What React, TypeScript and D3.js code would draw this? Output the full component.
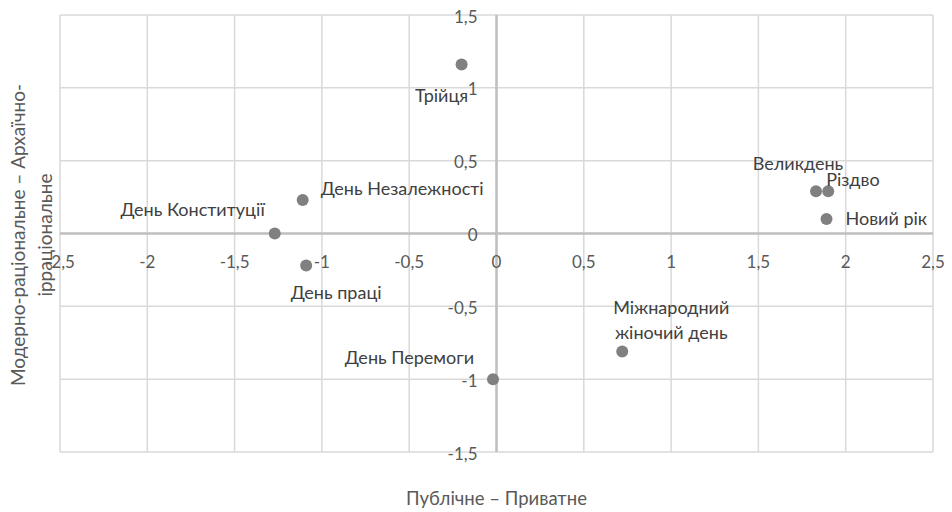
import * as d3 from 'd3';

const holidays = ['Трійця', 'День Незалежності', 'День Конституції', 'День праці', 'День Перемоги', 'Міжнародний жіночий день', 'Великдень', 'Різдво', 'Новий рік'];
const publicPrivate = [-0.2, -1.11, -1.27, -1.09, -0.02, 0.72, 1.83, 1.9, 1.89];
const modernArchaic = [1.16, 0.23, 0.0, -0.22, -1.0, -0.81, 0.29, 0.29, 0.1];
// label lines, split as in the source
const labelLines = [['Трійця'], ['День Незалежності'], ['День Конституції'], ['День праці'], ['День Перемоги'], ['Міжнародний', 'жіночий день'], ['Великдень'], ['Різдво'], ['Новий рік']];

const xTicks = [-2.5, -2, -1.5, -1, -0.5, 0, 0.5, 1, 1.5, 2, 2.5];
const yTicks = [-1.5, -1, -0.5, 0, 0.5, 1, 1.5];

const xTitle = 'Публічне – Приватне';
const yTitleLines = ['Модерно-раціональне – Архаїчно-', 'ірраціональне'];

// label placement relative to each point (px)
const labelPos: { dx: number; dy: number; anchor: string }[] = [
  { dx: -20, dy: 30, anchor: 'middle' },
  { dx: 18, dy: -12, anchor: 'start' },
  { dx: -10, dy: -25, anchor: 'end' },
  { dx: 30, dy: 26, anchor: 'middle' },
  { dx: -19, dy: -22, anchor: 'end' },
  { dx: 49, dy: -44, anchor: 'middle' },
  { dx: -18, dy: -28, anchor: 'middle' },
  { dx: -2, dy: -12, anchor: 'start' },
  { dx: 19, dy: -1, anchor: 'start' },
];

const fmt = (v: number) => String(v).replace('.', ',');

export default function App() {
  const width = 952;
  const height = 512;
  const margin = { top: 15, right: 19, bottom: 60, left: 60 };

  const x = d3.scaleLinear().domain([-2.5, 2.5]).range([margin.left, width - margin.right]);
  const y = d3.scaleLinear().domain([-1.5, 1.5]).range([height - margin.bottom, margin.top]);

  const font = 'Lato, "Open Sans", sans-serif';
  const textColor = '#595959';

  return (
    <svg
      width={width}
      height={height}
      style={{ position: 'absolute', left: 0, top: 0, background: '#fff' }}
      fontFamily={font}
    >
      {/* сітка */}
      {xTicks.map((t) => (
        <line key={'gx' + t} x1={x(t)} x2={x(t)} y1={y(1.5)} y2={y(-1.5)} stroke="#d9d9d9" strokeWidth={1.5} />
      ))}
      {yTicks.map((t) => (
        <line key={'gy' + t} x1={x(-2.5)} x2={x(2.5)} y1={y(t)} y2={y(t)} stroke="#d9d9d9" strokeWidth={1.5} />
      ))}

      {/* осі */}
      <line x1={x(-2.5)} x2={x(2.5)} y1={y(0)} y2={y(0)} stroke="#bfbfbf" strokeWidth={2.5} />
      <line x1={x(0)} x2={x(0)} y1={y(1.5)} y2={y(-1.5)} stroke="#bfbfbf" strokeWidth={2.5} />

      {/* підписи осей */}
      {xTicks.map((t) => (
        <text key={'tx' + t} x={x(t)} y={y(0) + 28} textAnchor="middle" dominantBaseline="central" fontSize={17} fill={textColor}>
          {fmt(t)}
        </text>
      ))}
      {yTicks.map((t) => (
        <text key={'ty' + t} x={x(0) - 19} y={y(t) + 1} textAnchor="end" dominantBaseline="central" fontSize={17} fill={textColor}>
          {fmt(t)}
        </text>
      ))}

      {/* точки */}
      {holidays.map((h, i) => (
        <circle key={'p' + h} cx={x(publicPrivate[i])} cy={y(modernArchaic[i])} r={6} fill="#808080" />
      ))}

      {/* мітки даних */}
      {holidays.map((h, i) => {
        const p = labelPos[i];
        return labelLines[i].map((line, j) => (
          <text
            key={'l' + h + j}
            x={x(publicPrivate[i]) + p.dx}
            y={y(modernArchaic[i]) + p.dy + j * 25}
            textAnchor={p.anchor}
            dominantBaseline="central"
            fontSize={18}
            fill="#404040"
          >
            {line}
          </text>
        ));
      })}

      {/* назви осей */}
      <text x={(x(-2.5) + x(2.5)) / 2} y={498} textAnchor="middle" dominantBaseline="central" fontSize={18.5} fill={textColor}>
        {xTitle}
      </text>
      {yTitleLines.map((line, j) => (
        <text
          key={'yt' + j}
          transform={`translate(${17 + j * 27},${235}) rotate(-90)`}
          textAnchor="middle"
          dominantBaseline="central"
          fontSize={19}
          fill={textColor}
        >
          {line}
        </text>
      ))}
    </svg>
  );
}
